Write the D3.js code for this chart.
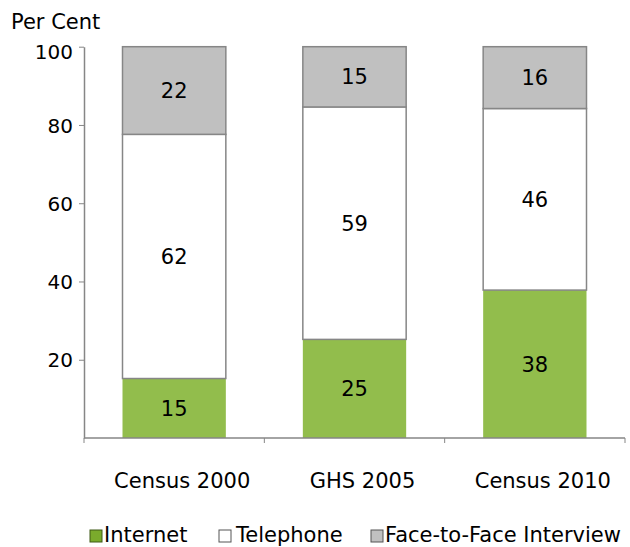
<!DOCTYPE html>
<html>
<head>
<meta charset="utf-8">
<script src="https://cdn.jsdelivr.net/npm/d3@7"></script>
<style>
  body { margin: 0; background: #fff; }
  svg text { font-family: "DejaVu Sans", Verdana, sans-serif; fill: #000; }
</style>
</head>
<body>
<script>
// data
var categories = ["Census 2000", "GHS 2005", "Census 2010"],
    seriesNames = ["Internet", "Telephone", "Face-to-Face Interview"],
    internet = [15.2, 25.2, 37.8],
    telephone = [62.4, 59.4, 46.4],
    faceToFace = [22.4, 15.4, 15.8],
    yTicks = [20, 40, 60, 80, 100],
    colors = ["#92bd4c", "#ffffff", "#c0c0c0"];

var width = 630, height = 547,
    plotLeft = 84, plotRight = 625, plotTop = 46.7, plotBottom = 438;

var svg = d3.select("body").append("svg").attr("width", width).attr("height", height);

var rows = categories.map(function (c, i) {
    return { cat: c, Internet: internet[i], Telephone: telephone[i], "Face-to-Face Interview": faceToFace[i] };
});
var stacked = d3.stack().keys(seriesNames)(rows);

var x = d3.scaleBand().domain(categories).range([plotLeft, plotRight]).paddingInner(0.427).paddingOuter(0.2135),
    y = d3.scaleLinear().domain([0, 100]).range([plotBottom, plotTop]);

// bars
var layers = svg.selectAll("g.layer").data(stacked).enter().append("g")
    .attr("class", "layer")
    .attr("fill", function (d, i) { return colors[i]; })
    .attr("stroke", function (d, i) { return i === 0 ? "none" : "#868686"; })
    .attr("stroke-width", 1.5);

layers.selectAll("rect").data(function (d) { return d; }).enter().append("rect")
    .attr("x", function (d) { return x(d.data.cat); })
    .attr("y", function (d) { return y(d[1]); })
    .attr("width", x.bandwidth())
    .attr("height", function (d) { return y(d[0]) - y(d[1]); });

// value labels
layers.selectAll("text").data(function (d) { return d; }).enter().append("text")
    .attr("x", function (d) { return x(d.data.cat) + x.bandwidth() / 2; })
    .attr("y", function (d) { return (y(d[0]) + y(d[1])) / 2; })
    .attr("dy", "0.36em")
    .attr("text-anchor", "middle")
    .attr("stroke", "none")
    .attr("fill", "#000")
    .style("font-size", "21px")
    .text(function (d) { return Math.round(d[1] - d[0]); });

// y axis
var yAxis = svg.append("g").attr("transform", "translate(" + plotLeft + ",0)")
    .call(d3.axisLeft(y).tickValues(yTicks).tickSize(5).tickPadding(6).tickSizeOuter(0));
yAxis.select(".domain").attr("stroke", "#868686").attr("stroke-width", 1.5);
yAxis.selectAll(".tick line").attr("stroke", "#868686");
yAxis.selectAll(".tick text").style("font-size", "20px").attr("fill", "#000")
    .attr("dy", function (d) { return d === 100 ? "0.6em" : "0.36em"; });

// x axis baseline + ticks between categories
svg.append("line").attr("x1", plotLeft).attr("x2", plotRight).attr("y1", plotBottom).attr("y2", plotBottom)
    .attr("stroke", "#868686").attr("stroke-width", 1.5);
var step = x.step();
svg.selectAll("line.xtick").data(d3.range(categories.length + 1)).enter().append("line")
    .attr("class", "xtick")
    .attr("x1", function (i) { return plotLeft + i * step; })
    .attr("x2", function (i) { return plotLeft + i * step; })
    .attr("y1", plotBottom).attr("y2", plotBottom + 5)
    .attr("stroke", "#868686");

svg.selectAll("text.cat").data(categories).enter().append("text")
    .attr("class", "cat")
    .attr("x", function (d) { return x(d) + x.bandwidth() / 2 + 8; })
    .attr("y", 488)
    .attr("text-anchor", "middle")
    .style("font-size", "21px")
    .text(function (d) { return d; });

svg.append("text").attr("x", 11).attr("y", 29).style("font-size", "21px").text("Per Cent");

// legend
var legendX = [90, 219, 371];
var legend = svg.selectAll("g.legend").data(seriesNames).enter().append("g")
    .attr("class", "legend")
    .attr("transform", function (d, i) { return "translate(" + legendX[i] + ",530)"; });
legend.append("rect").attr("width", 12).attr("height", 12)
    .attr("fill", function (d, i) { return i === 0 ? "#7aab2c" : colors[i]; })
    .attr("stroke", function (d, i) { return i === 0 ? "#3f5a16" : "#555"; })
    .attr("stroke-width", 1);
legend.append("text").attr("x", function (d, i) { return i === 1 ? 17 : 14; }).attr("y", 12)
    .style("font-size", "21px")
    .text(function (d) { return d; });
</script>
</body>
</html>
